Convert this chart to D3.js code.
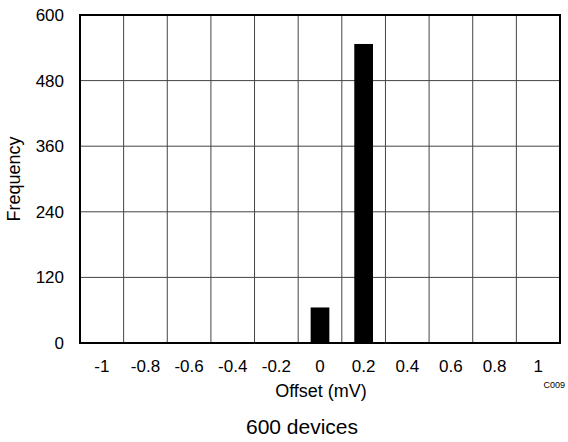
<!DOCTYPE html>
<html><head><meta charset="utf-8">
<script src="https://cdn.jsdelivr.net/npm/d3@7"></script>
<style>body{margin:0;background:#fff}text{font-family:"Liberation Sans",Arial,sans-serif;fill:#000}</style>
</head><body>
<svg id="c" width="568" height="442"></svg>
<script>
const categories = ["-1","-0.8","-0.6","-0.4","-0.2","0","0.2","0.4","0.6","0.8","1"];
const frequency = [0,0,0,0,0,65,547,0,0,0,0];
const yTicks = [0,120,240,360,480,600];

const svg = d3.select("#c");
const m = {l:80, t:15, r:8, b:99};
const W = 568 - m.l - m.r, H = 442 - m.t - m.b;
const g = svg.append("g").attr("transform",`translate(${m.l},${m.t})`);
const x = d3.scaleBand().domain(categories).range([0,W]).padding(0);
const y = d3.scaleLinear().domain([0,600]).range([H,0]);

// horizontal grid
g.append("g").selectAll("line").data(yTicks).join("line")
  .attr("x1",0).attr("x2",W).attr("y1",d=>y(d)).attr("y2",d=>y(d))
  .attr("stroke","#444").attr("stroke-width",1);
// vertical grid at band boundaries
g.append("g").selectAll("line").data(categories.slice(1)).join("line")
  .attr("x1",d=>x(d)).attr("x2",d=>x(d)).attr("y1",0).attr("y2",H)
  .attr("stroke","#444").attr("stroke-width",1);

// bars
const bw = 18.7;
g.append("g").selectAll("rect").data(categories.map((c,i)=>({c,v:frequency[i]})).filter(d=>d.v>0)).join("rect")
  .attr("x",d=>x(d.c)+x.bandwidth()/2-bw/2).attr("width",bw)
  .attr("y",d=>y(d.v)).attr("height",d=>H-y(d.v)).attr("fill","#000");

// frame
g.append("rect").attr("x",0).attr("y",0).attr("width",W).attr("height",H)
  .attr("fill","none").attr("stroke","#000").attr("stroke-width",2);

// y axis
const ya = g.append("g").call(d3.axisLeft(y).tickValues(yTicks).tickSize(0).tickPadding(16));
ya.select(".domain").remove();
ya.selectAll("text").attr("font-size",17).attr("font-family","Liberation Sans, Arial, sans-serif").attr("fill","#000");
// x axis
const xa = g.append("g").attr("transform",`translate(0,${H})`).call(d3.axisBottom(x).tickSize(0).tickPadding(17));
xa.select(".domain").remove();
xa.selectAll("text").attr("font-size",17).attr("font-family","Liberation Sans, Arial, sans-serif").attr("fill","#000");

svg.append("text").attr("x",321).attr("y",397).attr("text-anchor","middle").attr("font-size",18).text("Offset (mV)");
svg.append("text").attr("transform",`translate(20,${m.t+H/2}) rotate(-90)`).attr("text-anchor","middle").attr("font-size",18).text("Frequency");
svg.append("text").attr("x",565).attr("y",388).attr("text-anchor","end").attr("font-size",9).text("C009");
svg.append("text").attr("x",302).attr("y",434).attr("text-anchor","middle").attr("font-size",21).text("600 devices");
</script>
</body></html>
